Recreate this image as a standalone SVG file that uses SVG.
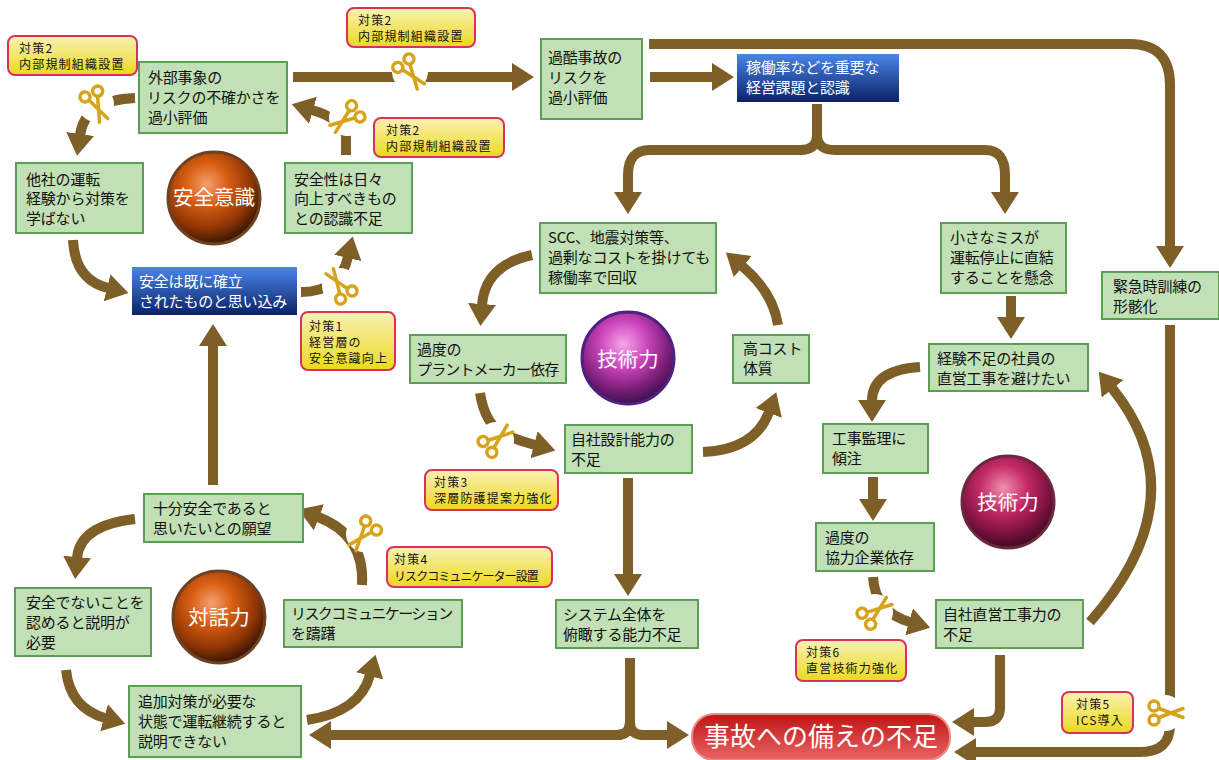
<svg xmlns="http://www.w3.org/2000/svg" xmlns:xlink="http://www.w3.org/1999/xlink" width="1219" height="760" viewBox="0 0 1219 760">
<style>
text{font-family:"Noto Sans CJK JP","Noto Sans",sans-serif}
.g rect{fill:#c1e0b5;stroke:#5d9e55;stroke-width:2}
.g text{font-size:15px;fill:#111;letter-spacing:-.2px}
.b rect{fill:url(#blue)}
.b text{font-size:15px;fill:#fff;letter-spacing:-.2px}
.y rect{fill:url(#yel);stroke:#d9305f;stroke-width:2}
.y text{font-size:12px;fill:#111;letter-spacing:1.2px}
.ball text{font-size:20.5px;fill:#fff;text-anchor:middle}
.c path{fill:none;stroke:#7d5f27;stroke-width:10;marker-end:url(#ah)}
.c path.n{marker-end:none}
.hl{fill:#fff}
.sc{fill:none;stroke:#d6a31a;stroke-width:3.5;stroke-linecap:round}
</style>
<defs>
<marker id="ah" markerUnits="userSpaceOnUse" markerWidth="24" markerHeight="32" refX="1" refY="16" orient="auto"><path d="M0,2L22,16L0,30Z" fill="#7d5f27"/></marker>
<linearGradient id="blue" x1="0" y1="0" x2="0" y2="1"><stop offset="0" stop-color="#4a86e8"/><stop offset="1" stop-color="#0b2268"/></linearGradient>
<linearGradient id="yel" x1="0" y1="0" x2="0" y2="1"><stop offset="0" stop-color="#f9f1b4"/><stop offset="1" stop-color="#ecd91e"/></linearGradient>
<linearGradient id="red" x1="0" y1="0" x2="0" y2="1"><stop offset="0" stop-color="#be1414"/><stop offset="1" stop-color="#ea6464"/></linearGradient>
<radialGradient id="or" cx=".42" cy=".35" r=".65"><stop offset="0" stop-color="#f3a070"/><stop offset=".35" stop-color="#d95f12"/><stop offset=".75" stop-color="#8f3505"/><stop offset="1" stop-color="#3c1804"/></radialGradient>
<radialGradient id="pu" cx=".45" cy=".35" r=".65"><stop offset="0" stop-color="#f4a6e8"/><stop offset=".4" stop-color="#cc45bc"/><stop offset=".75" stop-color="#7e1f7a"/><stop offset="1" stop-color="#3f1050"/></radialGradient>
<radialGradient id="cr" cx=".45" cy=".35" r=".65"><stop offset="0" stop-color="#ef8fae"/><stop offset=".4" stop-color="#c42a66"/><stop offset=".75" stop-color="#7f1240"/><stop offset="1" stop-color="#3f0a22"/></radialGradient>
<g id="sci">
<circle class="hl" cx="0" cy="0" r="18"/>
<g class="sc"><circle cx="-11" cy="-7" r="5"/><circle cx="-11" cy="7" r="5"/><path d="M-6,-4.5L18,4.5M-6,4.5L18,-4.5"/></g>
</g>
</defs>

<g id="connectors" class="c">
<path d="M293,77H513"/>
<path d="M650,77H713"/>
<path d="M649,44H1130Q1170,44 1170,85V247"/>
<path d="M817,104V135Q817,150 800,150H650Q628,150 628,175V193"/>
<path d="M817,135Q817,150 835,150H985Q1005,150 1005,175V193"/>
<path d="M532,255Q485,265 482,305"/>
<path d="M480,393Q485,425 505,435Q520,441 535,445"/>
<path d="M703,452Q755,450 769,412"/>
<path d="M778,325Q773,292 742,266"/>
<path d="M1011,296V318"/>
<path d="M920,367Q872,370 872,401"/>
<path d="M873,577Q875,612 910,622"/>
<path d="M873,477V500"/>
<path d="M1090,622Q1200,497 1112,388"/>
<path d="M628,478V575"/>
<path class="n" d="M630,658V722Q630,735 617,735H620"/>
<path d="M630,722Q630,735 617,735H330"/>
<path d="M630,722Q630,735 643,735H668"/>
<path d="M1000,655V708Q1000,722 985,722H973"/>
<path d="M1170,325V725Q1170,752 1140,752H975"/>
<path d="M213,485V345"/>
<path d="M135,519Q80,525 77,558"/>
<path d="M73,240Q75,280 108,288"/>
<path d="M66,670Q70,708 105,718"/>
<path d="M307,720Q360,712 370,675"/>
<path d="M362,585Q365,535 318,517"/>
<path d="M301,292Q340,292 348,257"/>
<path d="M346,155V135Q340,118 312,110"/>
<path d="M135,98Q85,100 80,135"/>
</g>

<use xlink:href="#sci" href="#sci" transform="translate(96,104) rotate(65)"/>
<use xlink:href="#sci" href="#sci" transform="translate(410,72) rotate(53)"/>
<use xlink:href="#sci" href="#sci" transform="translate(347,118) rotate(143)"/>
<use xlink:href="#sci" href="#sci" transform="translate(340,286) rotate(235)"/>
<use xlink:href="#sci" href="#sci" transform="translate(496,440) rotate(-39)"/>
<use xlink:href="#sci" href="#sci" transform="translate(364,534) rotate(130)"/>
<use xlink:href="#sci" href="#sci" transform="translate(875,612) rotate(-38)"/>
<use xlink:href="#sci" href="#sci" transform="translate(1165,713)"/>

<g id="n1" class="g"><rect x="139" y="62" width="148" height="71"/><text x="148" y="83">外部事象の</text><text x="147" y="103">リスクの不確かさを</text><text x="148" y="123">過小評価</text></g>
<g id="n2" class="g"><rect x="16" y="163" width="127" height="70"/><text x="26" y="185">他社の運転</text><text x="26" y="204">経験から対策を</text><text x="26" y="224">学ばない</text></g>
<g id="n3" class="g"><rect x="285" y="163" width="127" height="70"/><text x="294" y="185">安全性は日々</text><text x="294" y="204">向上すべきもの</text><text x="294" y="224">との認識不足</text></g>
<g id="n4" class="b"><rect x="132" y="267" width="165" height="48"/><text x="139" y="287">安全は既に確立</text><text x="139" y="307">されたものと思い込み</text></g>
<g id="n5" class="g"><rect x="541" y="39" width="101" height="80"/><text x="548" y="63">過酷事故の</text><text x="548" y="83">リスクを</text><text x="548" y="103">過小評価</text></g>
<g id="n6" class="b"><rect x="737" y="54" width="162" height="48"/><text x="746" y="73">稼働率などを重要な</text><text x="746" y="93">経営課題と認識</text></g>
<g id="n7" class="g"><rect x="540" y="223" width="176" height="70"/><text x="548" y="243">SCC、地震対策等、</text><text x="548" y="263">過剰なコストを掛けても</text><text x="548" y="283">稼働率で回収</text></g>
<g id="n8" class="g"><rect x="941" y="223" width="125" height="70"/><text x="950" y="243">小さなミスが</text><text x="950" y="263">運転停止に直結</text><text x="950" y="283">することを懸念</text></g>
<g id="n9" class="g"><rect x="1102" y="272" width="117" height="47"/><text x="1113" y="292">緊急時訓練の</text><text x="1113" y="312">形骸化</text></g>
<g id="n10" class="g"><rect x="410" y="335" width="156" height="48"/><text x="417" y="355">過度の</text><text x="417" y="375" textLength="142">プラントメーカー依存</text></g>
<g id="n11" class="g"><rect x="733" y="335" width="76" height="48"/><text x="743" y="354">高コスト</text><text x="743" y="374">体質</text></g>
<g id="n12" class="g"><rect x="929" y="344" width="159" height="47"/><text x="937" y="364">経験不足の社員の</text><text x="937" y="384">直営工事を避けたい</text></g>
<g id="n13" class="g"><rect x="823" y="424" width="105" height="49"/><text x="832" y="444">工事監理に</text><text x="832" y="464">傾注</text></g>
<g id="n14" class="g"><rect x="565" y="425" width="127" height="48"/><text x="571" y="445">自社設計能力の</text><text x="571" y="465">不足</text></g>
<g id="n15" class="g"><rect x="144" y="494" width="159" height="48"/><text x="153" y="514">十分安全であると</text><text x="153" y="534">思いたいとの願望</text></g>
<g id="n16" class="g"><rect x="816" y="523" width="118" height="48"/><text x="825" y="543">過度の</text><text x="825" y="563">協力企業依存</text></g>
<g id="n17" class="g"><rect x="15" y="588" width="136" height="68"/><text x="26" y="608">安全でないことを</text><text x="26" y="628">認めると説明が</text><text x="26" y="648">必要</text></g>
<g id="n18" class="g"><rect x="284" y="600" width="178" height="47"/><text x="291" y="619" textLength="162">リスクコミュニケーション</text><text x="291" y="639">を躊躇</text></g>
<g id="n19" class="g"><rect x="556" y="600" width="142" height="48"/><text x="563" y="620">システム全体を</text><text x="563" y="640">俯瞰する能力不足</text></g>
<g id="n20" class="g"><rect x="936" y="600" width="147" height="48"/><text x="943" y="620">自社直営工事力の</text><text x="943" y="640">不足</text></g>
<g id="n21" class="g"><rect x="129" y="686" width="172" height="71"/><text x="138" y="707">追加対策が必要な</text><text x="138" y="727">状態で運転継続すると</text><text x="138" y="747">説明できない</text></g>

<g id="y1" class="y"><rect x="8" y="36" width="129" height="39" rx="7"/><text x="19" y="53">対策2</text><text x="19" y="69">内部規制組織設置</text></g>
<g id="y2" class="y"><rect x="347" y="8" width="128" height="39" rx="7"/><text x="358" y="25">対策2</text><text x="358" y="41">内部規制組織設置</text></g>
<g id="y3" class="y"><rect x="374" y="118" width="130" height="39" rx="7"/><text x="386" y="135">対策2</text><text x="386" y="151">内部規制組織設置</text></g>
<g id="y4" class="y"><rect x="301" y="312" width="94" height="58" rx="7"/><text x="309" y="331">対策1</text><text x="309" y="347">経営層の</text><text x="309" y="363">安全意識向上</text></g>
<g id="y5" class="y"><rect x="425" y="470" width="133" height="40" rx="7"/><text x="434" y="487">対策3</text><text x="434" y="503">深層防護提案力強化</text></g>
<g id="y6" class="y"><rect x="387" y="547" width="165" height="40" rx="7"/><text x="394" y="564">対策4</text><text x="394" y="581" textLength="146">リスクコミュニケーター設置</text></g>
<g id="y7" class="y"><rect x="796" y="640" width="110" height="41" rx="7"/><text x="806" y="657">対策6</text><text x="806" y="673">直営技術力強化</text></g>
<g id="y8" class="y"><rect x="1062" y="692" width="71" height="41" rx="7"/><text x="1076" y="709">対策5</text><text x="1076" y="725">ICS導入</text></g>

<g id="ball1" class="ball"><circle cx="214" cy="198" r="46" fill="url(#or)" stroke="#6d4222" stroke-width="3"/><text x="214" y="205">安全意識</text></g>
<g id="ball2" class="ball"><circle cx="628" cy="358" r="46" fill="url(#pu)" stroke="#4f2180" stroke-width="3"/><text x="628" y="367">技術力</text></g>
<g id="ball3" class="ball"><circle cx="1008" cy="502" r="46" fill="url(#cr)" stroke="#6b2840" stroke-width="3"/><text x="1008" y="510">技術力</text></g>
<g id="ball4" class="ball"><circle cx="219" cy="617" r="46" fill="url(#or)" stroke="#6d4222" stroke-width="3"/><text x="219" y="625">対話力</text></g>

<g id="result"><rect x="692" y="714" width="258" height="46" rx="22" fill="url(#red)" stroke="#e88" stroke-width="2"/><text x="821" y="746" font-size="26" fill="#fff" text-anchor="middle">事故への備えの不足</text></g>
</svg>
